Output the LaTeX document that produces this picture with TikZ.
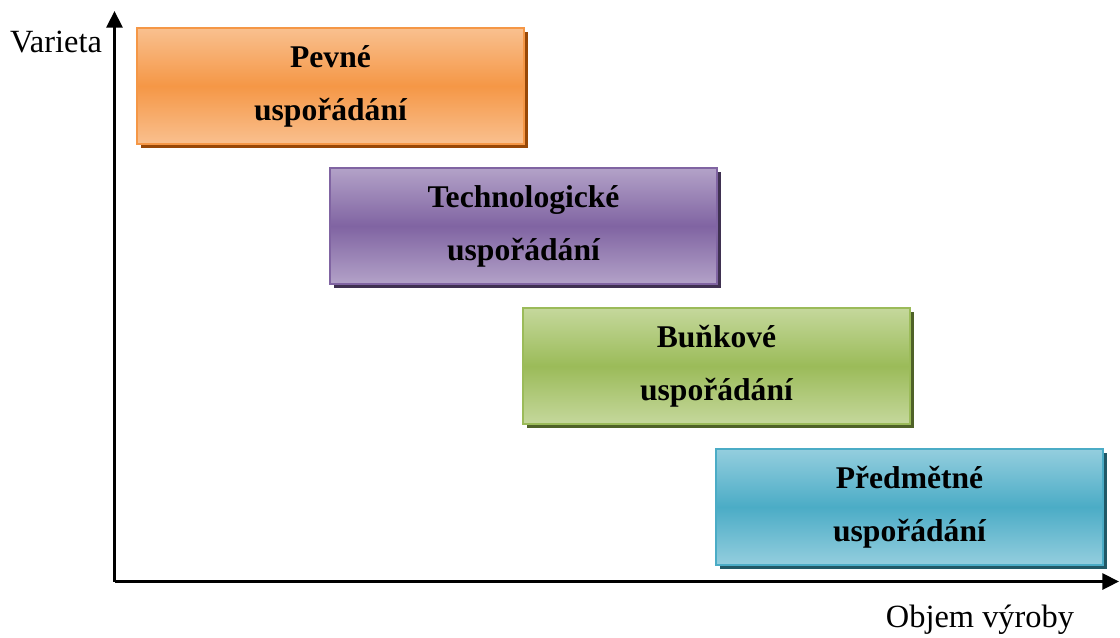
\documentclass[tikz,border=0pt]{standalone}
\usepackage{fontspec}
\setmainfont{Liberation Serif}
\usepackage{tikz}
\usetikzlibrary{positioning}
\usetikzlibrary{arrows.meta, shadows}
\usepackage{xcolor}
\definecolor{orangeL}{HTML}{F9C08F}
\definecolor{orangeM}{HTML}{F59746}
\definecolor{orangeD}{HTML}{984807}
\definecolor{purpleL}{HTML}{B3A2C8}
\definecolor{purpleM}{HTML}{8064A2}
\definecolor{purpleD}{HTML}{3F3151}
\definecolor{greenL}{HTML}{C5D89C}
\definecolor{greenM}{HTML}{9BBB59}
\definecolor{greenD}{HTML}{4F6228}
\definecolor{blueL}{HTML}{94CEDE}
\definecolor{blueM}{HTML}{4BACC6}
\definecolor{blueD}{HTML}{215967}
\tikzset{
	every node/.style={align=center},
	axis/.style={line width=2.3pt, -{Triangle[length=12.5pt,width=12pt]}},
	axislabel/.style={font=\fontsize{24.3}{28}\selectfont},
	layout/.style n args={3}{rectangle, draw=#2, line width=1.3pt,
		minimum width=290pt, minimum height=87pt,
		top color=#1, bottom color=#1, middle color=#2,
		drop shadow={shadow xshift=3pt, shadow yshift=-3pt, fill=#3, opacity=1},
		font=\fontsize{23.7}{39.75}\selectfont\bfseries}
}

\begin{document}
\begin{tikzpicture}[x=0.75pt, y=-0.75pt]
	\useasboundingbox (0,0) rectangle (1120,637);
	% axes
	\coordinate (o) at (114.5,581.5);
	\coordinate (ytop) at (114.5,11);
	\coordinate (xend) at (1119,581.5);
	\draw[axis] (o) -- (ytop);
	\draw[axis] (o) -- (xend);
	\node[axislabel] (varieta) at (56,42) {Varieta};
	\node[axislabel] (objem) at (980,620) {Objem výroby};
	
	% boxes
	\node[layout={orangeL}{orangeM}{orangeD}] (pevne) at (330.5,86) {Pevné\\uspořádání};
	\node[layout={purpleL}{purpleM}{purpleD}] (tech) at (523.5,226) {Technologické\\uspořádání};
	\node[layout={greenL}{greenM}{greenD}] (bunk) at (716.5,366) {Buňkové\\uspořádání};
	\node[layout={blueL}{blueM}{blueD}] (predm) at (909.5,507) {Předmětné\\uspořádání};
\end{tikzpicture}
\end{document}
